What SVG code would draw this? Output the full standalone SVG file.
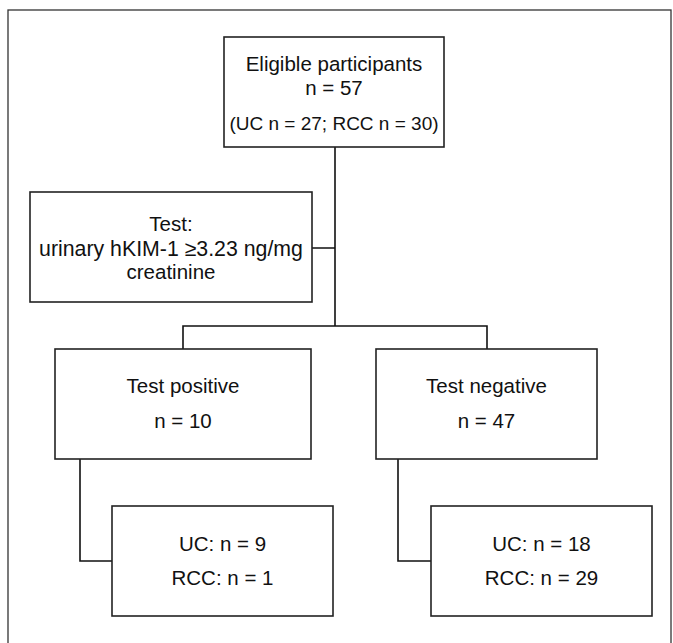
<svg xmlns="http://www.w3.org/2000/svg" width="673" height="643" viewBox="0 0 673 643">
<style>
.box{fill:#fff;stroke:#222;stroke-width:1.6}
.t{font-family:"Liberation Sans",Arial,sans-serif;font-size:20.5px;fill:#111;text-anchor:middle}
.c{fill:none;stroke:#111;stroke-width:1.6}
</style>
<rect x="0" y="0" width="673" height="643" fill="#fff"/>
<rect x="8" y="10" width="663" height="640" fill="none" stroke="#333" stroke-width="1.3"/>
<g id="connectors">
<path class="c" d="M335 147 V326 M183 349 V326 H487 V349 M312 248 H335"/>
<path class="c" d="M80 459 V561 H112"/>
<path class="c" d="M398 459 V561 H431"/>
</g>
<g id="eligible">
<rect class="box" x="224" y="37" width="220" height="110"/>
<text class="t" x="334" y="70.5">Eligible participants</text>
<text class="t" x="334" y="95">n = 57</text>
<text class="t" x="334" y="129.5" style="font-size:19px">(UC n = 27; RCC n = 30)</text>
</g>
<g id="test">
<rect class="box" x="30" y="192" width="282" height="110"/>
<text class="t" x="171" y="231">Test:</text>
<text class="t" x="171" y="256" style="font-size:21.3px">urinary hKIM-1 ≥3.23 ng/mg</text>
<text class="t" x="171" y="279">creatinine</text>
</g>
<g id="positive">
<rect class="box" x="55" y="349" width="256" height="110"/>
<text class="t" x="183" y="393">Test positive</text>
<text class="t" x="183" y="428">n = 10</text>
</g>
<g id="negative">
<rect class="box" x="376" y="349" width="221" height="110"/>
<text class="t" x="486.5" y="393">Test negative</text>
<text class="t" x="486.5" y="428">n = 47</text>
</g>
<g id="pos-breakdown">
<rect class="box" x="112" y="506" width="221" height="110"/>
<text class="t" x="222.5" y="551">UC: n = 9</text>
<text class="t" x="222.5" y="585">RCC: n = 1</text>
</g>
<g id="neg-breakdown">
<rect class="box" x="431" y="506" width="221" height="110"/>
<text class="t" x="541.5" y="551">UC: n = 18</text>
<text class="t" x="541.5" y="585">RCC: n = 29</text>
</g>
</svg>
